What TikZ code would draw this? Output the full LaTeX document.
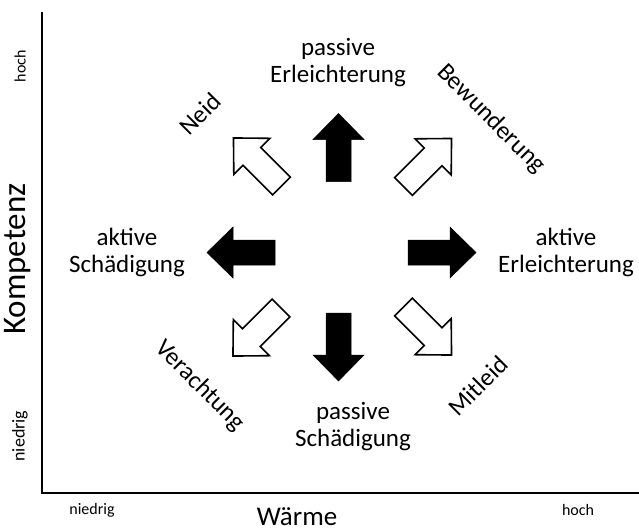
\documentclass[tikz,border=0pt]{standalone}
\usepackage{fontspec}
\setmainfont{Carlito}
\tikzset{
  fatarrow/.pic={\path[pic actions] (-34,-12.5) -- (8,-12.5) -- (8,-25.5) -- (34,0) -- (8,25.5) -- (8,12.5) -- (-34,12.5) -- cycle;},
  solidarrow/.style={fill=black, draw=black, line width=0.5pt, line join=miter},
  openarrow/.style={fill=white, draw=black, line width=1.6pt, line join=miter},
  lbl/.style={font=\fontsize{25}{27}\selectfont, align=center, inner sep=0pt},
  small/.style={font=\fontsize{16}{18}\selectfont, inner sep=0pt},
  axis/.style={line width=2.4pt},
}
\begin{document}
\begin{tikzpicture}[x=1pt,y=-1pt]
\useasboundingbox[fill=white] (0,0) rectangle (639,528);
% axes
\coordinate (ytop) at (42,12);
\coordinate (orig) at (42,493);
\coordinate (xend) at (639,493);
\draw[axis] (ytop) -- (orig) -- (xend);
% black arrows
\pic[solidarrow, rotate=90] at (338.5,147.5) {fatarrow};
\pic[solidarrow, rotate=270] at (338.5,347) {fatarrow};
\pic[solidarrow, rotate=180] at (241,252.5) {fatarrow};
\pic[solidarrow, rotate=0] at (442,252.5) {fatarrow};
% open arrows
\pic[openarrow, rotate=135] at (257.5,162) {fatarrow};
\pic[openarrow, rotate=45] at (427.5,162.5) {fatarrow};
\pic[openarrow, rotate=225] at (257,332) {fatarrow};
\pic[openarrow, rotate=315] at (427.5,331) {fatarrow};
% labels
\node[lbl] (pe) at (338,63) {passive\\Erleichterung};
\node[lbl] (as) at (127,252) {aktive\\Schädigung};
\node[lbl] (ae) at (566,252) {aktive\\Erleichterung};
\node[lbl] (ps) at (353,427) {passive\\Schädigung};
\node[lbl, rotate=45] (neid) at (200,114) {Neid};
\node[lbl, rotate=-45] (bew) at (491,119) {Bewunderung};
\node[lbl, rotate=-45] (ver) at (200,386) {Verachtung};
\node[lbl, rotate=45] (mit) at (478,386) {Mitleid};
% axis labels
\node[small] (xlo) at (92,510) {niedrig};
\node[font=\fontsize{27}{29}\selectfont, inner sep=0pt, anchor=base] (xlab) at (297,525) {Wärme};
\node[small] (xhi) at (578,510) {hoch};
\node[small, rotate=90] (yhi) at (20,66) {hoch};
\node[font=\fontsize{33}{35}\selectfont, inner sep=0pt, rotate=90] (ylab) at (18,259) {Kompetenz};
\node[font=\fontsize{18}{20}\selectfont, inner sep=0pt, rotate=90] (ylo) at (20,436) {niedrig};
\end{tikzpicture}
\end{document}
